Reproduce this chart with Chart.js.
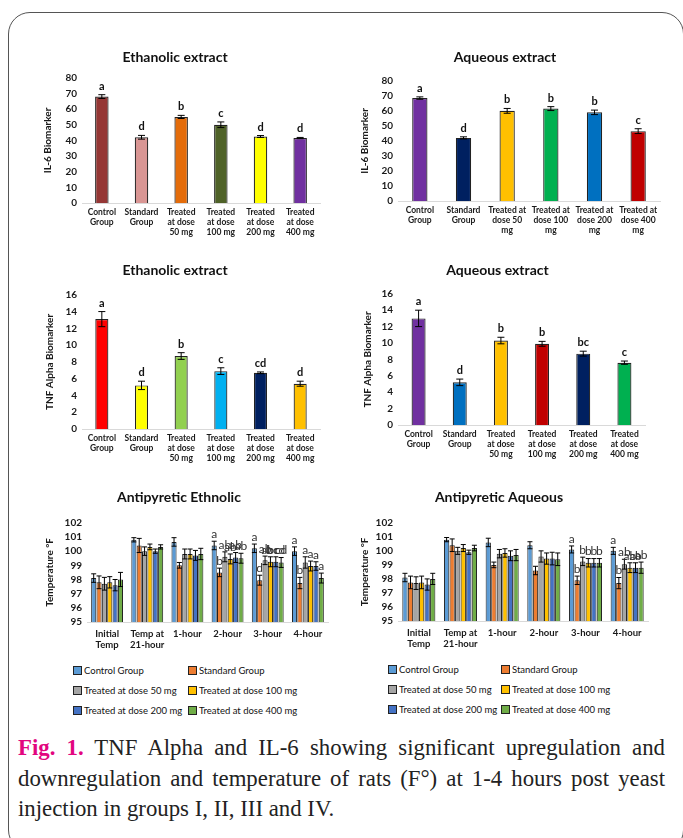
<!DOCTYPE html>
<html>
<head>
<meta charset="utf-8">
<script src="https://cdn.jsdelivr.net/npm/chart.js@4.4.1/dist/chart.umd.min.js"></script>
<style>
  body { margin: 0; background: #fff; width: 683px; height: 838px; overflow: hidden; position: relative; }
  .frame { position: absolute; left: 8px; top: 12px; width: 676px; height: 840px; border: 1.5px solid #555; border-radius: 22px; box-sizing: border-box; }
  canvas { position: absolute; }
  .legend { position: absolute; font-family: Lato, sans-serif; font-size: 9.5px; color: #111; }
  .legend .item { position: absolute; white-space: nowrap; }
  .legend .box { display: inline-block; width: 7px; height: 7px; border: 1px solid #222; vertical-align: -1px; margin-right: 2px; }
  .caption { position: absolute; left: 18px; top: 733px; width: 647px; font-family: "Liberation Serif", serif; font-size: 22.8px; line-height: 30.5px; color: #222; text-align: justify; }
  .caption b { color: #e2067f; }
</style>
</head>
<body>
<div class="frame"></div>
<canvas id="c1" width="300" height="210" style="left:30px;top:40px"></canvas>
<canvas id="c2" width="320" height="210" style="left:350px;top:40px"></canvas>
<canvas id="c3" width="300" height="220" style="left:30px;top:255px"></canvas>
<canvas id="c4" width="300" height="215" style="left:350px;top:255px"></canvas>
<canvas id="c5" width="310" height="180" style="left:30px;top:482px"></canvas>
<canvas id="c6" width="304" height="180" style="left:350px;top:482px"></canvas>
<div class="legend" id="leg1"></div>
<div class="legend" id="leg2"></div>
<div class="caption"><b>Fig. 1.</b> TNF Alpha and IL-6 showing significant upregulation and downregulation and temperature of rats (F°) at 1-4 hours post yeast injection in groups I, II, III and IV.</div>
<script>
// ---- data ----
const groupLabelsEth = [["Control","Group"],["Standard","Group"],["Treated","at dose","50 mg"],["Treated","at dose","100 mg"],["Treated","at dose","200 mg"],["Treated","at dose","400 mg"]];
const groupLabelsAq = [["Control","Group"],["Standard","Group"],["Treated at","dose 50","mg"],["Treated at","dose 100","mg"],["Treated at","dose 200","mg"],["Treated at","dose 400","mg"]];
const groupLabelsAq2 = [["Control","Group"],["Standard","Group"],["Treated","at dose","50 mg"],["Treated","at dose","100 mg"],["Treated","at dose","200 mg"],["Treated","at dose","400 mg"]];

const il6Eth = [68, 42, 55, 50, 42.5, 41.5];
const il6EthErr = [1.2, 1.2, 1.0, 1.8, 0.6, 0.4];
const il6EthLetters = ["a","d","b","c","d","d"];
const il6EthColors = ["#953735","#d99694","#e46c0a","#4f6228","#ffff00","#7030a0"];

const il6Aq = [68.5, 42, 60, 61.5, 59, 46.5];
const il6AqErr = [0.8, 0.7, 1.6, 1.3, 1.5, 1.6];
const il6AqLetters = ["a","d","b","b","b","c"];
const il6AqColors = ["#7030a0","#002060","#ffc000","#00b050","#0070c0","#c00000"];

const tnfEth = [13.1, 5.2, 8.7, 6.9, 6.7, 5.4];
const tnfEthErr = [0.9, 0.5, 0.4, 0.4, 0.1, 0.3];
const tnfEthLetters = ["a","d","b","c","cd","d"];
const tnfEthColors = ["#ff0000","#ffff00","#92d050","#00b0f0","#002060","#ffc000"];

const tnfAq = [13, 5.2, 10.3, 9.9, 8.7, 7.6];
const tnfAqErr = [1.0, 0.4, 0.4, 0.3, 0.3, 0.2];
const tnfAqLetters = ["a","d","b","b","bc","c"];
const tnfAqColors = ["#7030a0","#0070c0","#ffc000","#c00000","#002060","#00b050"];

const timeLabels = [["Initial","Temp"],["Temp at","21-hour"],"1-hour","2-hour","3-hour","4-hour"];
const seriesNames = ["Control Group","Standard Group","Treated at dose 50 mg","Treated at dose 100 mg","Treated at dose 200 mg","Treated at dose 400 mg"];
const seriesColors = ["#5b9bd5","#ed7d31","#a5a5a5","#ffc000","#4472c4","#70ad47"];

const tempEth = [
  [98.1, 100.8, 100.65, 100.4, 100.2, 100.0],
  [97.8, 100.4, 99.0, 98.5, 97.95, 97.75],
  [97.7, 100.0, 99.8, 99.6, 99.35, 99.2],
  [97.8, 100.3, 99.8, 99.45, 99.25, 98.95],
  [97.6, 100.0, 99.7, 99.55, 99.25, 98.95],
  [98.0, 100.3, 99.8, 99.5, 99.2, 98.1]
];
const tempEthErr = [
  [0.3, 0.15, 0.3, 0.3, 0.3, 0.3],
  [0.45, 0.5, 0.2, 0.3, 0.35, 0.4],
  [0.45, 0.3, 0.35, 0.35, 0.3, 0.4],
  [0.4, 0.2, 0.35, 0.35, 0.35, 0.35],
  [0.4, 0.15, 0.35, 0.35, 0.35, 0.3],
  [0.5, 0.15, 0.4, 0.35, 0.35, 0.35]
];
const tempEthLetters = [
  ["","","","a","a","a"],
  ["","","","b","d","b"],
  ["","","","ab","ab","a"],
  ["","","","ab","abc","a"],
  ["","","","ab","bcd","a"],
  ["","","","ab","cd","a"]
];

const tempAq = [
  [98.1, 100.8, 100.6, 100.4, 100.1, 100.0],
  [97.75, 100.4, 99.0, 98.6, 97.9, 97.7],
  [97.7, 100.0, 99.8, 99.6, 99.25, 99.05],
  [97.75, 100.2, 99.85, 99.45, 99.15, 98.8],
  [97.6, 99.9, 99.65, 99.45, 99.15, 98.8],
  [98.0, 100.2, 99.7, 99.4, 99.15, 98.8]
];
const tempAqErr = [
  [0.3, 0.15, 0.3, 0.25, 0.25, 0.25],
  [0.45, 0.45, 0.2, 0.3, 0.3, 0.4],
  [0.45, 0.25, 0.3, 0.4, 0.3, 0.35],
  [0.45, 0.25, 0.3, 0.4, 0.3, 0.35],
  [0.4, 0.15, 0.35, 0.45, 0.3, 0.35],
  [0.4, 0.2, 0.4, 0.45, 0.3, 0.4]
];
const tempAqLetters = [
  ["","","","","a","a"],
  ["","","","","b","b"],
  ["","","","","b","ab"],
  ["","","","","b","ab"],
  ["","","","","b","ab"],
  ["","","","","b","ab"]
];

// ---- drawing ----
Chart.defaults.font.family = "Lato, sans-serif";
Chart.defaults.color = "#1a1a1a";

const errorBars = {
  id: 'errorBars',
  afterDatasetsDraw(chart, args, opts) {
    const ctx = chart.ctx;
    const yScale = chart.scales.y;
    chart.data.datasets.forEach(function (ds, di) {
      const meta = chart.getDatasetMeta(di);
      meta.data.forEach(function (bar, i) {
        const v = ds.data[i], e = ds.errors[i];
        const x = bar.x;
        const yTop = yScale.getPixelForValue(v + e);
        const yBot = yScale.getPixelForValue(v - e);
        ctx.save();
        ctx.strokeStyle = '#000';
        ctx.lineWidth = 1;
        ctx.beginPath();
        ctx.moveTo(x, yTop); ctx.lineTo(x, yBot);
        ctx.moveTo(x - opts.cap, yTop); ctx.lineTo(x + opts.cap, yTop);
        ctx.moveTo(x - opts.cap, yBot); ctx.lineTo(x + opts.cap, yBot);
        ctx.stroke();
        const letter = ds.letters[i];
        if (letter) {
          ctx.fillStyle = opts.letterColor;
          ctx.font = opts.letterFont;
          ctx.textAlign = 'center';
          ctx.textBaseline = 'bottom';
          ctx.fillText(letter, x, yTop - opts.gap);
        }
        ctx.restore();
      });
    });
  }
};

function makeChart(id, cfg) {
  return new Chart(document.getElementById(id), {
    type: 'bar',
    data: { labels: cfg.labels, datasets: cfg.datasets },
    options: {
      responsive: false,
      animation: false,
      layout: { padding: { left: 0, right: cfg.padRight, top: 0, bottom: 0 } },
      plugins: {
        legend: { display: false },
        tooltip: { enabled: false },
        title: { display: true, text: cfg.title, font: { size: 14, weight: 'bold' }, color: '#111',
                 padding: { top: cfg.titleTop, bottom: cfg.titleBottom } },
        errorBars: cfg.err
      },
      datasets: { bar: { categoryPercentage: cfg.catPct, barPercentage: cfg.barPct } },
      scales: {
        x: {
          grid: { display: false, drawTicks: false },
          border: { display: true, color: '#d9d9d9', width: 1 },
          ticks: { font: { size: cfg.xFont, weight: 'bold' }, padding: cfg.xPad, maxRotation: 0, autoSkip: false, color: '#1a1a1a' },
          afterFit: function (s) { s.height = cfg.xHeight; }
        },
        y: {
          min: cfg.min, max: cfg.max,
          grid: { display: false, drawTicks: false },
          border: { display: false },
          ticks: { stepSize: cfg.step, autoSkip: false, font: { size: 10, weight: 'bold' }, padding: 5, color: '#1a1a1a' },
          title: { display: true, text: cfg.yTitle, font: { size: 10, weight: 'bold' }, color: '#1a1a1a',
                   padding: { top: cfg.yTitlePad, bottom: 0 } },
          afterFit: function (s) { s.width = cfg.yWidth; }
        }
      }
    },
    plugins: [errorBars]
  });
}

function singleSet(values, errors, letters, colors) {
  return [{ data: values, errors: errors, letters: letters, backgroundColor: colors, borderColor: '#222', borderWidth: 1.2 }];
}

function multiSet(values, errors, letters) {
  return seriesNames.map(function (name, i) {
    return { label: name, data: values[i], errors: errors[i], letters: letters[i],
             backgroundColor: seriesColors[i], borderColor: '#222', borderWidth: 1 };
  });
}

const topErr = { cap: 3.5, gap: 3, letterColor: '#111', letterFont: 'bold 11px Lato, sans-serif' };
const tempErrOpts = { cap: 2.5, gap: 1, letterColor: '#333', letterFont: '12px Lato, sans-serif' };

makeChart('c1', { title: 'Ethanolic extract', labels: groupLabelsEth, datasets: singleSet(il6Eth, il6EthErr, il6EthLetters, il6EthColors),
  min: 0, max: 80, step: 10, yTitle: 'IL-6 Biomarker', yTitlePad: 12, yWidth: 52, padRight: 10,
  titleTop: 9, titleBottom: 12, xHeight: 47, xFont: 8.5, xPad: 4, catPct: 1, barPct: 0.34, err: topErr });

makeChart('c2', { title: 'Aqueous extract', labels: groupLabelsAq, datasets: singleSet(il6Aq, il6AqErr, il6AqLetters, il6AqColors),
  min: 0, max: 80, step: 10, yTitle: 'IL-6 Biomarker', yTitlePad: 9, yWidth: 48, padRight: 10,
  titleTop: 9, titleBottom: 15, xHeight: 49, xFont: 8.5, xPad: 4, catPct: 1, barPct: 0.35, err: topErr });

makeChart('c3', { title: 'Ethanolic extract', labels: groupLabelsEth, datasets: singleSet(tnfEth, tnfEthErr, tnfEthLetters, tnfEthColors),
  min: 0, max: 16, step: 2, yTitle: 'TNF Alpha Biomarker', yTitlePad: 14, yWidth: 52, padRight: 10,
  titleTop: 7, titleBottom: 16, xHeight: 46, xFont: 8.5, xPad: 4, catPct: 1, barPct: 0.33, err: topErr });

makeChart('c4', { title: 'Aqueous extract', labels: groupLabelsAq2, datasets: singleSet(tnfAq, tnfAqErr, tnfAqLetters, tnfAqColors),
  min: 0, max: 16, step: 2, yTitle: 'TNF Alpha Biomarker', yTitlePad: 12, yWidth: 48, padRight: 5,
  titleTop: 7, titleBottom: 15, xHeight: 45, xFont: 8.5, xPad: 4, catPct: 1, barPct: 0.34, err: topErr });

makeChart('c5', { title: 'Antipyretic Ethnolic', labels: timeLabels, datasets: multiSet(tempEth, tempEthErr, tempEthLetters),
  min: 95, max: 102, step: 1, yTitle: 'Temperature °F', yTitlePad: 14, yWidth: 57, padRight: 12,
  titleTop: 7, titleBottom: 17, xHeight: 40, xFont: 9.5, xPad: 6, catPct: 0.8, barPct: 0.95, err: tempErrOpts });

makeChart('c6', { title: 'Antipyretic Aqueous', labels: timeLabels, datasets: multiSet(tempAq, tempAqErr, tempAqLetters),
  min: 95, max: 102, step: 1, yTitle: 'Temperature °F', yTitlePad: 9, yWidth: 48, padRight: 6,
  titleTop: 7, titleBottom: 17, xHeight: 41, xFont: 9.5, xPad: 6, catPct: 0.8, barPct: 0.95, err: tempErrOpts });

// legends built from the series arrays
function buildLegend(id, x1, x2, ys) {
  const el = document.getElementById(id);
  seriesNames.forEach(function (name, i) {
    const item = document.createElement('div');
    item.className = 'item';
    item.style.left = (i % 2 === 0 ? x1 : x2) + 'px';
    item.style.top = (ys[Math.floor(i / 2)] - 6) + 'px';
    item.innerHTML = '<span class="box" style="background:' + seriesColors[i] + '"></span>' + name;
    el.appendChild(item);
  });
}
buildLegend('leg1', 73, 188, [671, 691, 711]);
buildLegend('leg2', 388, 501, [670, 690, 710]);
</script>
</body>
</html>
